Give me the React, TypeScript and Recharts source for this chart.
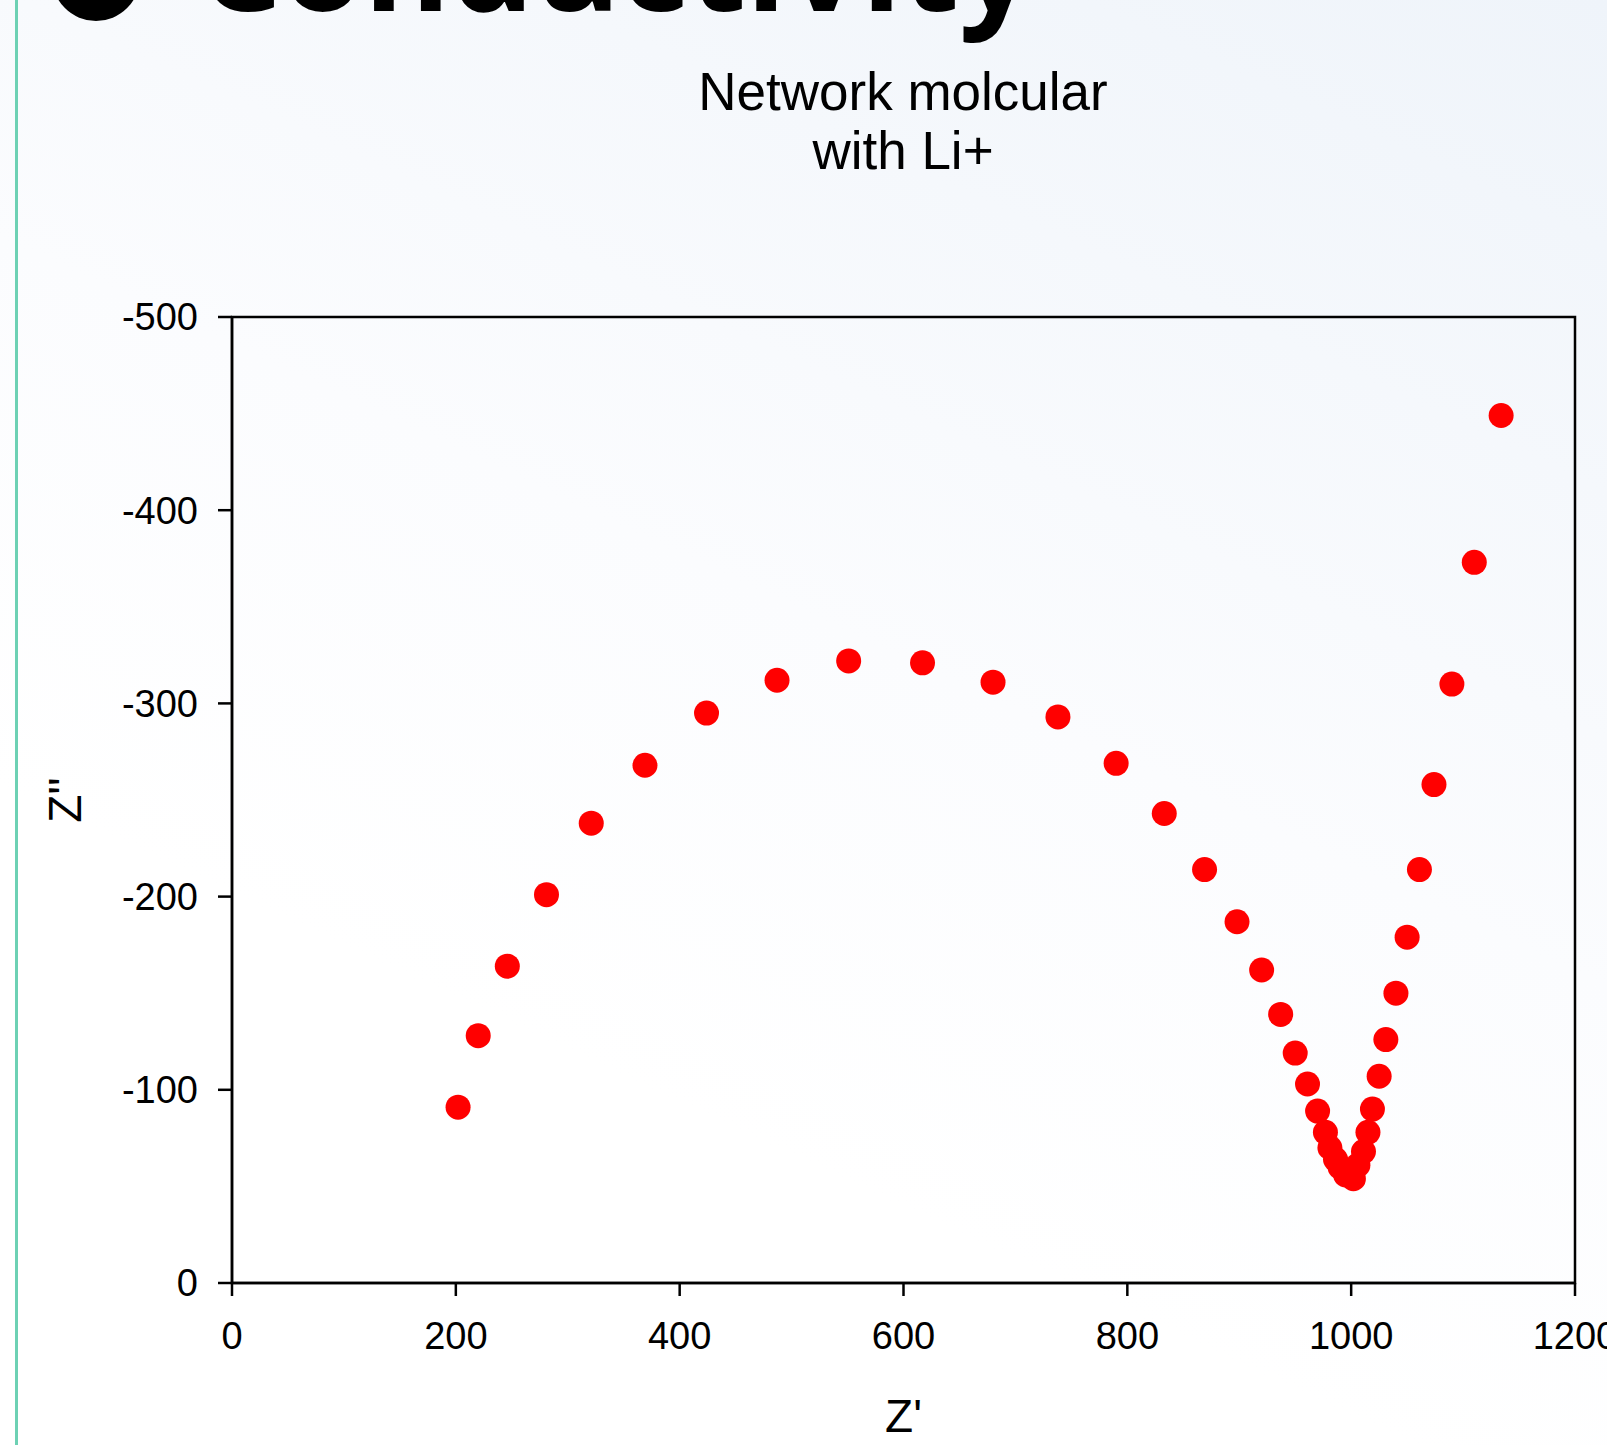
import React from 'react';
import { ScatterChart, Scatter, XAxis, YAxis, ReferenceArea } from 'recharts';

const zReal = [
  202, 220, 246, 281, 321, 369, 424, 487, 551, 617, 680, 738, 790, 833, 869,
  898, 920, 937, 950, 961, 970, 977, 981, 986, 990, 995, 1002, 1006, 1011,
  1015, 1019, 1025, 1031, 1040, 1050, 1061, 1074, 1090, 1110, 1134,
];
const zImag = [
  -91, -128, -164, -201, -238, -268, -295, -312, -322, -321, -311, -293, -269,
  -243, -214, -187, -162, -139, -119, -103, -89, -78, -70, -64, -60, -56, -54,
  -61, -68, -78, -90, -107, -126, -150, -179, -214, -258, -310, -373, -449,
];
const xTicks = [0, 200, 400, 600, 800, 1000, 1200];
const yTicks = [-500, -400, -300, -200, -100, 0];
const titleLines = ['Network molcular', 'with Li+'];
const heading = 'Conductivity';

const data = zReal.map((x, i) => ({ x, y: zImag[i] }));

const FONT = "'Liberation Sans', Arial, sans-serif";

const Dot = (props: any) => {
  const { cx, cy } = props;
  if (cx == null || cy == null) return null;
  return <circle cx={cx} cy={cy} r={12.5} fill="#FF0000" />;
};

const YLabel = (props: any) => {
  const vb = props.viewBox || {};
  const x = (vb.x || 0) + 81;
  const y = (vb.y || 0) + (vb.height || 0) / 2;
  return (
    <text
      x={x}
      y={y}
      transform={`rotate(-90 ${x} ${y})`}
      textAnchor="middle"
      fontSize={46}
      fontFamily={FONT}
      fill="#000"
    >
      {"Z''"}
    </text>
  );
};

export default function App() {
  return (
    <div
      style={{
        position: 'absolute',
        left: 0,
        top: 0,
        width: 1607,
        height: 1445,
        overflow: 'hidden',
        background: 'linear-gradient(205deg, #eff4fa 0%, #fbfcfe 45%, #ffffff 70%)',
      }}
    >
      <div
        style={{
          position: 'absolute',
          left: 15,
          top: 0,
          width: 3,
          height: 1445,
          background: '#6dd1b4',
        }}
      />
      <svg
        style={{ position: 'absolute', left: 0, top: 0 }}
        width={1607}
        height={200}
      >
        <circle cx={96} cy={-23} r={44} fill="#000" />
        <text
          x={198}
          y={11}
          fontFamily="'Open Sans', 'Noto Sans', sans-serif"
          fontWeight={700}
          fontSize={132}
          fill="#000"
        >
          {heading}
        </text>
        {titleLines.map((t, i) => (
          <text
            key={t}
            x={903}
            y={110 + i * 59}
            textAnchor="middle"
            fontSize={53}
            fontFamily={FONT}
            fill="#000"
          >
            {t}
          </text>
        ))}
      </svg>
      <div style={{ position: 'absolute', left: 0, top: 0 }}>
        <ScatterChart
          width={1607}
          height={1445}
          margin={{ top: 317, right: 32, bottom: 0, left: 0 }}
        >
          <XAxis
            type="number"
            dataKey="x"
            domain={[0, 1200]}
            ticks={xTicks}
            allowDataOverflow
            height={162}
            axisLine={{ stroke: '#000', strokeWidth: 2.5 }}
            tickLine={{ stroke: '#000', strokeWidth: 2.5 }}
            tickSize={13}
            tickMargin={26}
            tick={{ fontSize: 38, fill: '#000', fontFamily: FONT }}
            interval={0}
            label={{
              value: "Z'",
              position: 'insideBottom',
              offset: 13,
              fontSize: 46,
              fill: '#000',
              fontFamily: FONT,
            }}
          />
          <YAxis
            type="number"
            dataKey="y"
            domain={[-500, 0]}
            ticks={yTicks}
            reversed
            allowDataOverflow
            width={232}
            axisLine={{ stroke: '#000', strokeWidth: 2.5 }}
            tickLine={{ stroke: '#000', strokeWidth: 2.5 }}
            tickSize={14}
            tickMargin={20}
            tick={{ fontSize: 38, fill: '#000', fontFamily: FONT }}
            interval={0}
            label={{ content: YLabel }}
          />
          <ReferenceArea
            x1={0}
            x2={1200}
            y1={-500}
            y2={0}
            fill="none"
            stroke="#000"
            strokeWidth={2.5}
            fillOpacity={0}
            strokeOpacity={1}
          />
          <Scatter data={data} shape={Dot} isAnimationActive={false} />
        </ScatterChart>
      </div>
    </div>
  );
}
